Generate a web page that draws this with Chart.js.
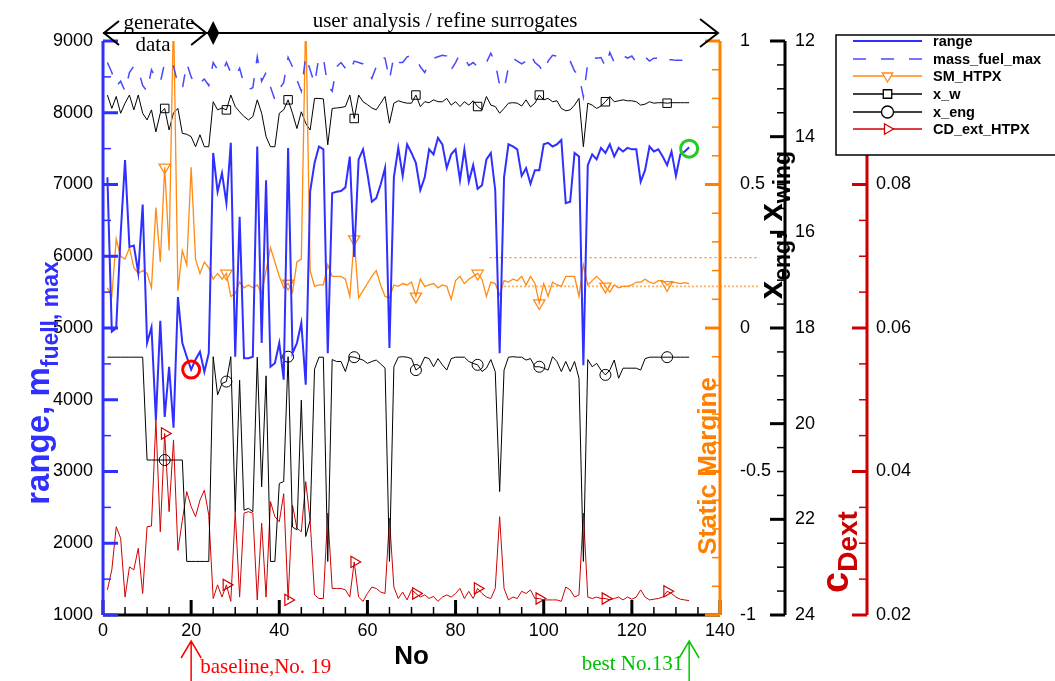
<!DOCTYPE html>
<html><head><meta charset="utf-8">
<script src="https://cdn.jsdelivr.net/npm/chart.js@4.4.1/dist/chart.umd.min.js"></script>
<style>html,body{margin:0;padding:0;background:#fff;overflow:hidden}canvas{display:block}</style>
</head><body>
<canvas id="c" width="1055" height="681"></canvas>
<script>
// ---------------- DATA ----------------
const no = [1,2,3,4,5,6,7,8,9,10,11,12,13,14,15,16,17,18,19,20,21,22,23,24,25,26,27,28,29,30,
31,32,33,34,35,36,37,38,39,40,41,42,43,44,45,46,47,48,49,50,51,52,53,54,55,56,57,58,59,60,
61,62,63,64,65,66,67,68,69,70,71,72,73,74,75,76,77,78,79,80,81,82,83,84,85,86,87,88,89,90,
91,92,93,94,95,96,97,98,99,100,101,102,103,104,105,106,107,108,109,110,111,112,113,114,115,116,117,118,119,120,
121,122,123,124,125,126,127,128,129,130,131,132,133];

const range = [7100,4950,5000,6300,7340,6130,6150,5770,6720,4790,
5010,3720,5100,3760,4460,3610,5430,4790,4600,4420,
4560,4670,4390,4650,7440,6900,7160,6740,7580,4600,
6550,4580,4580,4600,7530,4790,7060,4460,4510,4790,
4280,7510,4650,4790,5070,4210,6900,7300,7530,7490,
4650,6880,6900,6910,6960,7390,5990,7350,7490,7150,
6760,6810,7000,7230,4720,7100,7510,7120,7560,7440,
7300,6920,7100,7490,7420,7650,7560,7230,7420,7490,
7060,7490,7040,7270,6940,6990,7350,7440,6920,4650,
7100,7560,7530,7490,7120,7230,7010,7200,7200,7560,
7580,7530,7560,7620,6740,6760,7440,7390,4480,7270,
7420,7350,7510,7440,7560,7390,7510,7460,7510,7490,
7490,7040,7200,7530,7460,7490,7390,7270,7460,7120,
7420,7460,7520];

const massFuelMax = [8700,8560,8370,8440,8300,8560,8650,8600,8380,8300,
8600,8480,8420,8700,8720,8650,8400,8330,8690,8500,
8380,8420,8470,8380,8700,8600,8550,8700,8560,8500,
8620,8400,8320,8350,8780,8440,8560,8360,8180,8330,
8420,8770,8640,8460,8300,8790,8600,8400,8780,8760,
8380,8300,8640,8700,8620,8560,8720,8700,8680,8600,
8480,8640,8780,8760,8460,8790,8700,8700,8780,8800,
8760,8640,8560,8700,8760,8780,8800,8790,8600,8700,
8820,8760,8660,8700,8640,8620,8700,8830,8700,8380,
8320,8640,8760,8720,8680,8720,8820,8700,8650,8560,
8720,8800,8790,8780,8760,8720,8580,8520,8220,8700,
8780,8760,8770,8640,8840,8700,8760,8800,8760,8790,
8700,8750,8780,8720,8760,8760,8700,8740,8740,8730,
8730,8730,8730];

const smHTPX = [0.14,0.11,0.31,0.25,0.24,0.28,0.21,0.19,0.20,0.19,
0.14,0.42,0.23,0.56,0.27,1.1,0.13,0.27,0.22,0.56,
0.24,0.19,0.23,0.21,0.17,0.19,0.17,0.19,0.11,0.12,
0.16,0.14,0.15,0.14,0.15,0.12,0.20,0.28,0.23,0.18,
0.14,0.155,0.125,0.23,0.24,1.1,0.20,0.145,0.15,0.15,
0.22,0.18,0.18,0.18,0.17,0.11,0.31,0.105,0.13,0.155,
0.18,0.20,0.15,0.11,0.105,0.15,0.145,0.155,0.15,0.16,
0.11,0.17,0.145,0.15,0.155,0.14,0.15,0.145,0.10,0.165,
0.18,0.155,0.17,0.18,0.19,0.17,0.11,0.16,0.155,0.115,
0.165,0.16,0.17,0.165,0.18,0.15,0.18,0.155,0.087,0.155,
0.11,0.16,0.15,0.145,0.18,0.18,0.18,0.11,0.22,0.15,
0.165,0.18,0.165,0.145,0.125,0.15,0.14,0.145,0.145,0.15,
0.16,0.16,0.17,0.16,0.155,0.165,0.165,0.15,0.16,0.158,
0.155,0.158,0.155];

const xW = [13.13,13.41,13.16,13.51,13.30,13.13,13.44,13.13,13.51,13.65,
13.44,13.90,13.51,13.41,13.86,13.50,13.41,13.93,13.95,14.00,
14.21,13.96,14.21,14.21,13.27,13.44,13.40,13.44,13.13,13.37,
13.48,13.58,13.65,13.58,13.23,13.51,14.00,14.21,14.21,13.51,
13.44,13.23,13.51,13.83,13.48,13.72,13.86,13.20,13.20,13.21,
14.17,13.41,13.40,13.39,13.37,13.13,13.62,13.13,13.27,13.33,
13.40,13.44,13.30,13.16,13.72,13.30,13.25,13.28,13.30,13.30,
13.13,13.37,13.27,13.29,13.23,13.27,13.27,13.20,13.34,13.27,
13.37,13.27,13.34,13.25,13.37,13.44,13.16,13.34,13.37,13.51,
13.41,13.30,13.29,13.30,13.36,13.23,13.38,13.30,13.13,13.23,
13.20,13.27,13.25,13.41,13.46,13.44,13.34,13.20,14.21,13.30,
13.34,13.41,13.36,13.27,13.16,13.27,13.25,13.23,13.25,13.25,
13.27,13.34,13.32,13.27,13.30,13.29,13.29,13.30,13.29,13.29,
13.29,13.29,13.29];

const xEng = [18.61,18.61,18.61,18.61,18.61,18.61,18.61,18.61,18.61,20.76,
20.76,20.76,20.76,20.76,20.76,20.76,20.76,20.76,22.88,22.88,
22.88,22.88,22.88,22.88,18.60,19.40,19.16,19.12,18.60,21.84,
19.09,21.81,21.77,21.84,18.61,21.32,19.00,22.88,22.88,21.25,
21.21,18.60,22.16,22.22,19.51,22.36,22.02,18.86,18.61,18.61,
22.88,18.66,18.70,18.70,18.91,18.60,18.61,18.64,18.67,18.74,
18.70,18.67,18.75,18.84,22.88,18.81,18.61,18.60,18.61,18.64,
18.88,18.81,18.61,18.64,18.81,18.64,18.77,18.88,18.64,18.61,
18.61,18.61,18.70,18.74,18.77,18.91,18.84,18.66,18.91,21.42,
18.88,18.61,18.60,18.61,18.61,18.67,18.64,18.81,18.81,18.84,
18.88,18.60,18.70,18.91,18.70,18.91,18.70,19.05,22.88,18.66,
18.81,18.74,18.88,18.98,18.88,18.67,19.05,18.84,18.84,18.84,
18.84,18.88,18.64,18.61,18.61,18.61,18.61,18.61,18.61,18.61,
18.61,18.61,18.61];

const cdExtHTPX = [0.0235,0.0263,0.0323,0.0307,0.0225,0.0267,0.0263,0.0293,0.0230,0.0323,
0.0324,0.0472,0.0316,0.0453,0.0344,0.0444,0.0290,0.0332,0.0372,0.0351,
0.0337,0.0360,0.0374,0.0339,0.0223,0.0242,0.0225,0.0242,0.0219,0.0344,
0.0225,0.0342,0.0344,0.0342,0.0221,0.0328,0.0225,0.0358,0.0337,0.0330,
0.0369,0.0221,0.0353,0.0321,0.0316,0.0386,0.0332,0.0228,0.0223,0.0223,
0.0342,0.0237,0.0237,0.0237,0.0235,0.0225,0.0274,0.0225,0.0219,0.0230,
0.0239,0.0237,0.0232,0.0230,0.0335,0.0239,0.0223,0.0232,0.0221,0.0235,
0.0230,0.0225,0.0228,0.0223,0.0226,0.0219,0.0225,0.0228,0.0225,0.0230,
0.0237,0.0223,0.0233,0.0223,0.0237,0.0230,0.0225,0.0223,0.0237,0.0337,
0.0237,0.0221,0.0225,0.0223,0.0233,0.0230,0.0235,0.0223,0.0223,0.0221,
0.0221,0.0221,0.0221,0.0219,0.0239,0.0235,0.0225,0.0228,0.0342,0.0225,
0.0223,0.0225,0.0223,0.0223,0.0221,0.0223,0.0225,0.0221,0.0225,0.0222,
0.0225,0.0235,0.0225,0.0221,0.0222,0.0223,0.0225,0.0233,0.0230,0.0225,
0.0222,0.0221,0.0220];

const markerNo = [14, 28, 42, 57, 71, 85, 99, 114, 128];   // symbols drawn on these points
const baselinePoint = {no: 20, range: 4420};
const bestPoint = {no: 133, range: 7500};
const smBandHigh = 0.245, smBandLow = 0.145;
const smBandHighFrom = 87.7, smBandLowFrom = 91, smBandTo = 149;

const xTicks = [0, 20, 40, 60, 80, 100, 120, 140];
const labels = {
  legend: ['range', 'mass_fuel_max', 'SM_HTPX', 'x_w', 'x_eng', 'CD_ext_HTPX'],
  phase1: ['generate', 'data'],
  phase2: 'user analysis / refine surrogates',
  baseline: 'baseline,No. 19',
  best: 'best No.131'
};

// ---------------- STYLE ----------------
const C_RANGE = '#2f2fff', C_FUEL = '#4848ff', C_SM = '#ff8a14', C_X = '#000000', C_CD = '#d00000';
const SANS = '"Liberation Sans", Arial, sans-serif';
const SERIF = '"Liberation Serif", "Times New Roman", serif';

const pts = arr => no.map((n, i) => ({x: n, y: arr[i]}));
const mRad = r => (c => markerNo.includes(no[c.dataIndex]) ? r : 0);
const plain = v => String(+(+v).toFixed(3));

const tickFont = {family: SANS, size: 18};

const deco = {
  id: 'deco',
  afterDatasetsDraw(chart) {
    const ctx = chart.ctx, ca = chart.chartArea, s = chart.scales;
    ctx.save();
    ctx.lineCap = 'butt';
    ctx.strokeStyle = '#000'; ctx.lineWidth = 3;
    ctx.beginPath(); ctx.moveTo(ca.left, ca.bottom); ctx.lineTo(ca.right, ca.bottom); ctx.stroke();
    for (let v = 0; v <= 140; v += 5) {
      const x = s.x.getPixelForValue(v), maj = v % 20 === 0;
      ctx.lineWidth = maj ? 3 : 1.5;
      ctx.beginPath(); ctx.moveTo(x, ca.bottom); ctx.lineTo(x, ca.bottom - (maj ? 15 : 8)); ctx.stroke();
    }
    function vAxis(scale, x, color, min, max, step, majorEvery, dir) {
      ctx.strokeStyle = color; ctx.lineWidth = 3;
      ctx.beginPath(); ctx.moveTo(x, ca.top); ctx.lineTo(x, ca.bottom); ctx.stroke();
      const n = Math.round((max - min) / step);
      for (let i = 0; i <= n; i++) {
        const v = min + i * step;
        const q = v / majorEvery, maj = Math.abs(q - Math.round(q)) < 1e-6;
        const y = scale.getPixelForValue(v);
        ctx.lineWidth = maj ? 3 : 1.5;
        ctx.beginPath(); ctx.moveTo(x, y); ctx.lineTo(x + dir * (maj ? 15 : 8), y); ctx.stroke();
      }
    }
    vAxis(s.y, ca.left, C_RANGE, 1000, 9000, 500, 1000, 1);
    vAxis(s.ySM, s.ySM.left, '#ff8000', -1, 1, 0.1, 0.5, -1);
    vAxis(s.yX, s.yX.left, '#000', 12, 24, 0.5, 2, -1);
    vAxis(s.yCD, s.yCD.left, '#cc0000', 0.02, 0.1, 0.005, 0.02, -1);
    ctx.restore();
  },
  afterDraw(chart) {
    const ctx = chart.ctx, ca = chart.chartArea, s = chart.scales;
    function rotText(cx, cy, parts, color) {
      ctx.save(); ctx.translate(cx, cy); ctx.rotate(-Math.PI / 2);
      ctx.fillStyle = color; ctx.textBaseline = 'alphabetic'; ctx.textAlign = 'left';
      let w = 0;
      parts.forEach(p => { ctx.font = p.font; p.w = ctx.measureText(p.t).width; w += p.w; });
      let x = -w / 2;
      parts.forEach(p => { ctx.font = p.font; ctx.fillText(p.t, x, p.dy || 0); x += p.w; });
      ctx.restore();
    }
    // axis titles
    rotText(49, 383, [{t: 'range, m', font: 'bold 33px ' + SANS}, {t: 'fuell, max', font: 'bold 23px ' + SANS, dy: 9}], C_RANGE);
    rotText(716, 466, [{t: 'Static Margine', font: 'bold 26px ' + SANS}], '#ff8000');
    rotText(782, 225, [{t: 'x', font: 'bold 33px ' + SANS}, {t: 'eng', font: 'bold 23px ' + SANS, dy: 8},
      {t: ', x', font: 'bold 33px ' + SANS}, {t: 'wing', font: 'bold 23px ' + SANS, dy: 8}], '#000');
    rotText(848, 552, [{t: 'c', font: 'bold 38px ' + SANS}, {t: 'Dext', font: 'bold 28px ' + SANS, dy: 9}], '#cc0000');
    ctx.save();
    ctx.fillStyle = '#000'; ctx.font = 'bold 26px ' + SANS; ctx.textAlign = 'center'; ctx.textBaseline = 'middle';
    ctx.fillText('No', (ca.left + ca.right) / 2, 657);
    ctx.restore();

    // top phase arrows
    ctx.save();
    ctx.strokeStyle = '#000'; ctx.fillStyle = '#000'; ctx.lineWidth = 2;
    const yA = 33, xL = s.x.getPixelForValue(0), xD = s.x.getPixelForValue(25), xR = ca.right - 2;
    ctx.beginPath(); ctx.moveTo(xL, yA); ctx.lineTo(xR, yA); ctx.stroke();
    ctx.beginPath();
    ctx.moveTo(xL + 16, yA - 12); ctx.lineTo(xL + 1, yA); ctx.lineTo(xL + 16, yA + 12);
    ctx.moveTo(xD - 22, yA - 12); ctx.lineTo(xD - 7, yA); ctx.lineTo(xD - 22, yA + 12);
    ctx.moveTo(xR - 18, yA - 14); ctx.lineTo(xR, yA); ctx.lineTo(xR - 18, yA + 14);
    ctx.stroke();
    ctx.beginPath(); ctx.moveTo(xD, yA - 12); ctx.lineTo(xD + 6, yA); ctx.lineTo(xD, yA + 12); ctx.lineTo(xD - 6, yA); ctx.closePath(); ctx.fill();
    ctx.font = '21px ' + SERIF; ctx.textAlign = 'center'; ctx.textBaseline = 'alphabetic';
    ctx.fillText(labels.phase1[0], 159, 29);
    ctx.fillText(labels.phase1[1], 153, 51);
    ctx.fillText(labels.phase2, 445, 27);
    ctx.restore();

    // bottom arrows
    function upArrow(x, color) {
      ctx.save(); ctx.strokeStyle = color; ctx.lineWidth = 1.5;
      ctx.beginPath(); ctx.moveTo(x, 681); ctx.lineTo(x, 641);
      ctx.moveTo(x - 10, 658); ctx.lineTo(x, 641); ctx.lineTo(x + 10, 658); ctx.stroke(); ctx.restore();
    }
    const xb = s.x.getPixelForValue(baselinePoint.no), xg = s.x.getPixelForValue(bestPoint.no);
    upArrow(xb, '#ff0000'); upArrow(xg, '#00c800');
    ctx.save(); ctx.font = '21px ' + SERIF; ctx.textBaseline = 'alphabetic';
    ctx.fillStyle = '#ff0000'; ctx.textAlign = 'left'; ctx.fillText(labels.baseline, xb + 9, 673);
    ctx.fillStyle = '#00c000'; ctx.textAlign = 'right'; ctx.fillText(labels.best, xg - 6, 670);
    ctx.restore();

    // legend
    ctx.save();
    const lx = 836, ly = 35, lw = 230, lh = 120;
    ctx.fillStyle = '#fff'; ctx.fillRect(lx, ly, lw, lh);
    ctx.strokeStyle = '#000'; ctx.lineWidth = 1.5; ctx.strokeRect(lx, ly, lw, lh);
    const rows = [41, 59, 76, 94, 112, 129];
    const ds = chart.data.datasets;
    for (let i = 0; i < 6; i++) {
      const d = ds[i], y = rows[i];
      ctx.strokeStyle = d.borderColor; ctx.lineWidth = i === 0 ? 2 : 1.5;
      ctx.setLineDash(d.borderDash || []);
      ctx.beginPath(); ctx.moveTo(853, y); ctx.lineTo(922, y); ctx.stroke();
      ctx.setLineDash([]);
      if (d.pointStyle) {
        ctx.fillStyle = '#fff';
        ctx.strokeStyle = d.pointBorderColor || d.borderColor; ctx.lineWidth = 1.3;
        Chart.helpers.drawPoint(ctx, {pointStyle: d.pointStyle, rotation: d.pointRotation || 0, radius: 6, borderWidth: 1.3}, 887.5, y);
      }
      ctx.fillStyle = '#000'; ctx.font = 'bold 14.5px ' + SANS; ctx.textAlign = 'left'; ctx.textBaseline = 'middle';
      ctx.fillText(labels.legend[i], 933, y + 1);
    }
    ctx.restore();
  }
};

const hollow = 'rgba(255,255,255,0)';

new Chart(document.getElementById('c'), {
  type: 'line',
  data: {
    datasets: [
      {label: labels.legend[0], data: pts(range), yAxisID: 'y', borderColor: C_RANGE, borderWidth: 2, pointRadius: 0},
      {label: labels.legend[1], data: pts(massFuelMax), yAxisID: 'y', borderColor: C_FUEL, borderWidth: 1.5, borderDash: [13, 15], pointRadius: 0},
      {label: labels.legend[2], data: pts(smHTPX), yAxisID: 'ySM', borderColor: C_SM, borderWidth: 1.3,
        pointStyle: 'triangle', pointRotation: 180, pointRadius: mRad(6.5), pointBorderColor: C_SM, pointBackgroundColor: hollow, pointBorderWidth: 1.3},
      {label: labels.legend[3], data: pts(xW), yAxisID: 'yX', borderColor: C_X, borderWidth: 1,
        pointStyle: 'rect', pointRadius: mRad(6), pointBorderColor: '#000', pointBackgroundColor: hollow, pointBorderWidth: 1},
      {label: labels.legend[4], data: pts(xEng), yAxisID: 'yX', borderColor: C_X, borderWidth: 1,
        pointStyle: 'circle', pointRadius: mRad(5.5), pointBorderColor: '#000', pointBackgroundColor: hollow, pointBorderWidth: 1},
      {label: labels.legend[5], data: pts(cdExtHTPX), yAxisID: 'yCD', borderColor: C_CD, borderWidth: 1,
        pointStyle: 'triangle', pointRotation: 90, pointRadius: mRad(6.5), pointBorderColor: C_CD, pointBackgroundColor: hollow, pointBorderWidth: 1.2},
      {label: 'baseline', data: [{x: baselinePoint.no, y: baselinePoint.range}], yAxisID: 'y', showLine: false, order: -1,
        pointRadius: 8.5, pointBorderWidth: 3, pointBorderColor: '#ff0000', pointBackgroundColor: hollow},
      {label: 'best', data: [{x: bestPoint.no, y: bestPoint.range}], yAxisID: 'y', showLine: false, order: -1,
        pointRadius: 8.5, pointBorderWidth: 3, pointBorderColor: '#22cc22', pointBackgroundColor: hollow},
      {label: 'smHigh', data: [{x: smBandHighFrom, y: smBandHigh}, {x: smBandTo, y: smBandHigh}], yAxisID: 'ySM', clip: false,
        borderColor: '#ff8a14', borderWidth: 1.2, borderDash: [2, 3], pointRadius: 0},
      {label: 'smLow', data: [{x: smBandLowFrom, y: smBandLow}, {x: smBandTo, y: smBandLow}], yAxisID: 'ySM', clip: false,
        borderColor: '#ffb060', borderWidth: 1.8, borderDash: [2, 2], pointRadius: 0}
    ]
  },
  options: {
    responsive: false, animation: false, devicePixelRatio: 1, events: [],
    layout: {padding: {top: 41, left: 0, right: 0, bottom: 0}},
    plugins: {legend: {display: false}, tooltip: {enabled: false}},
    elements: {line: {tension: 0}},
    scales: {
      x: {type: 'linear', position: 'bottom', min: 0, max: 140,
        afterFit: sc => { sc.height = 66; },
        afterBuildTicks: sc => { sc.ticks = xTicks.map(v => ({value: v})); },
        ticks: {font: tickFont, color: '#000', padding: 5, maxRotation: 0, autoSkip: false, callback: plain},
        grid: {display: false, drawTicks: false}, border: {display: false}},
      y: {position: 'left', min: 1000, max: 9000,
        afterFit: sc => { sc.width = 103; },
        ticks: {stepSize: 1000, font: tickFont, color: '#000', padding: 10, callback: plain},
        grid: {display: false, drawTicks: false}, border: {display: false}},
      ySM: {position: 'right', weight: 0, min: -1, max: 1,
        afterFit: sc => { sc.width = 65; },
        ticks: {stepSize: 0.5, font: tickFont, color: '#000', padding: 20, callback: plain},
        grid: {display: false, drawTicks: false}, border: {display: false}},
      yX: {position: 'right', weight: 1, min: 12, max: 24, reverse: true,
        afterFit: sc => { sc.width = 82; },
        ticks: {stepSize: 2, font: tickFont, color: '#000', padding: 10, callback: plain},
        grid: {display: false, drawTicks: false}, border: {display: false}},
      yCD: {position: 'right', weight: 2, min: 0.02, max: 0.1,
        afterFit: sc => { sc.width = 188; },
        ticks: {stepSize: 0.02, font: tickFont, color: '#000', padding: 9,
          callback: v => (v > 0.095 ? '' : (+v).toFixed(2))},
        grid: {display: false, drawTicks: false}, border: {display: false}}
    }
  },
  plugins: [deco]
});
</script>
</body></html>
